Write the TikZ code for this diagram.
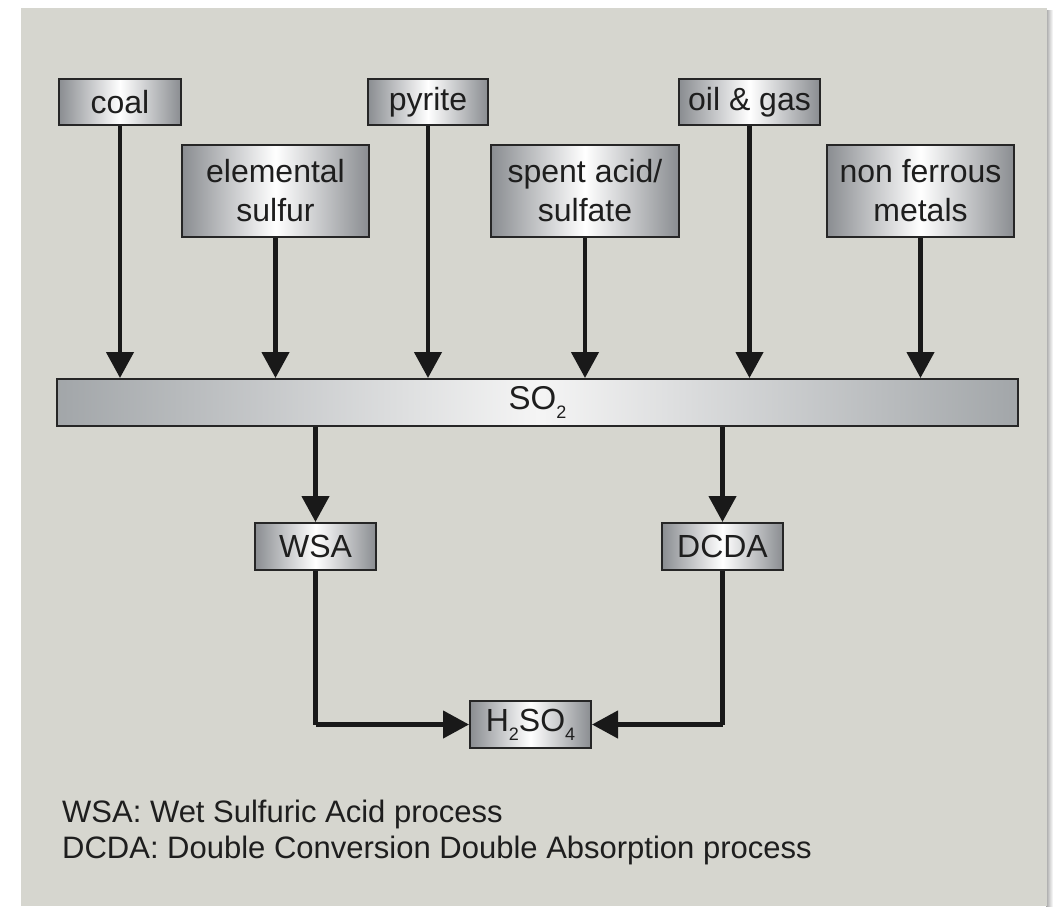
\documentclass[tikz,border=0pt]{standalone}
\usepackage{fontspec}
\setmainfont{Liberation Sans}
\usetikzlibrary{arrows.meta}
\definecolor{panel}{HTML}{D6D6CF}
\definecolor{boxedge}{HTML}{262626}
\definecolor{boxgray}{HTML}{8A8D91}
\definecolor{bargray}{HTML}{A2A6A9}
\definecolor{txt}{HTML}{1E1E1E}
\newcommand{\sub}[1]{\raisebox{-0.28em}{\fontsize{18}{18}\selectfont #1}}
\tikzset{
  srcbox/.style={draw=boxedge, line width=2pt, left color=boxgray, right color=boxgray, middle color=white,
    inner sep=0pt, align=center, text=txt, font=\fontsize{32}{39}\selectfont},
  onebox/.style={srcbox, minimum height=46pt},
  twobox/.style={srcbox, minimum height=92pt},
  barbox/.style={draw=boxedge, line width=2pt, left color=bargray, right color=bargray, middle color=white!96!black,
    inner sep=0pt, minimum width=961pt, minimum height=47pt, text=txt, font=\fontsize{33}{36}\selectfont},
  flow/.style={line width=4.5pt, draw=black!90, -{Triangle[width=27pt,length=26pt]}},
  link/.style={line width=4.5pt, draw=black!90},
  legend/.style={anchor=base west, inner sep=0pt, text=txt, font=\fontsize{31}{36}\selectfont}
}
\begin{document}
\begin{tikzpicture}[x=1pt, y=-1pt]
\useasboundingbox (0,0) rectangle (1053,906);
\fill[white] (0,0) rectangle (1053,906);
\shade[left color=black!35, right color=white] (1046,10) rectangle (1053,906);
\fill[panel] (21,8) rectangle (1047,906);

% sources
\node[onebox, minimum width=122pt] (coal) at (120,102) {coal};
\node[twobox, minimum width=187pt] (elem) at (275.5,191) {elemental\\sulfur};
\node[onebox, minimum width=120pt] (pyrite) at (428,102) {pyrite};
\node[twobox, minimum width=188pt] (spent) at (585,191) {spent acid/\\sulfate};
\node[onebox, minimum width=141pt] (oil) at (749.5,102) {oil \& gas};
\node[twobox, minimum width=187pt] (nonfe) at (920.5,191) {non ferrous\\metals};

% SO2 bar
\node[barbox] (so2) at (537.5,402.5) {SO\sub{2}};

% processes
\node[onebox, minimum width=121pt, minimum height=47pt] (wsa) at (315.5,546.5) {WSA};
\node[onebox, minimum width=121pt, minimum height=47pt] (dcda) at (722.5,546.5) {DCDA};
\node[onebox, minimum width=121pt, minimum height=47pt] (acid) at (530.5,724.5) {H\sub{2}SO\sub{4}};

% arrows into SO2
\foreach \n in {coal,elem,pyrite,spent,oil,nonfe}
  \draw[flow] (\n.south) -- (\n.south |- so2.north);

% arrows out of SO2
\draw[flow] (wsa.north |- so2.south) -- (wsa.north);
\draw[flow] (dcda.north |- so2.south) -- (dcda.north);

% to sulfuric acid
\draw[link] (wsa.south) -- (wsa.south |- acid.west);
\draw[flow] (wsa.south |- acid.west) -- (acid.west);
\draw[link] (dcda.south) -- (dcda.south |- acid.east);
\draw[flow] (dcda.south |- acid.east) -- (acid.east);

% legend
\node[legend] (l1) at (62,822) {WSA: Wet Sulfuric Acid process};
\node[legend] (l2) at (62,858) {DCDA: Double Conversion Double Absorption process};
\end{tikzpicture}
\end{document}
